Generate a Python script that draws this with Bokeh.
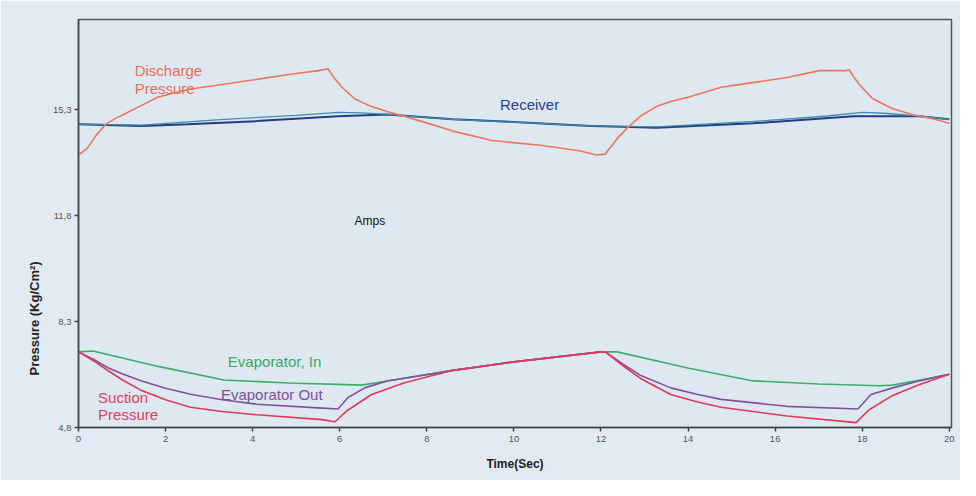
from bokeh.plotting import figure
from bokeh.models import FixedTicker, Label, Range1d, Title
from bokeh.embed import file_html
from bokeh.resources import INLINE

# ---- data ----
x_ticks = [0, 2, 4, 6, 8, 10, 12, 14, 16, 18, 20]
y_ticks = [4.8, 8.3, 11.8, 15.3]
y_tick_labels = ["4,8", "8,3", "11,8", "15,3"]

discharge_t = [0, 0.2, 0.4, 0.63, 0.85, 1.08, 1.45, 1.83, 2.57, 3.34, 4.09, 4.83, 5.51, 5.73, 5.85,
               6.05, 6.34, 6.73, 7.09, 7.47, 7.86, 8.6, 9.5, 10.6, 11.5, 11.9, 12.1, 12.37, 12.6,
               12.9, 13.27, 13.6, 14.02, 14.76, 15.52, 16.27, 17.02, 17.63, 17.7, 17.8, 17.93,
               18.24, 18.69, 19.14, 19.66, 20]
discharge_v = [13.81, 14.03, 14.45, 14.83, 15.02, 15.18, 15.45, 15.73, 15.99, 16.15, 16.31, 16.47,
               16.6, 16.66, 16.4, 16.05, 15.67, 15.41, 15.25, 15.09, 14.93, 14.6, 14.29, 14.13,
               13.95, 13.81, 13.84, 14.35, 14.7, 15.09, 15.41, 15.58, 15.73, 16.05, 16.21, 16.37,
               16.6, 16.6, 16.63, 16.4, 16.15, 15.67, 15.35, 15.15, 14.99, 14.86]

receiver_t = [0, 1.45, 2.5, 4.09, 5.96, 7.09, 8.6, 10, 11.76, 12.5, 13.27, 15.5, 17.8, 19.3, 20]
receiver_v = [14.83, 14.77, 14.83, 14.93, 15.09, 15.15, 14.99, 14.9, 14.77, 14.74, 14.71, 14.86,
              15.09, 15.09, 14.99]

receiver2_t = [0, 1.45, 3.34, 5.0, 5.96, 6.5, 7.09, 8.6, 11.76, 13.27, 15.5, 17.2, 18.0, 18.5, 19.3, 20]
receiver2_v = [14.83, 14.8, 14.99, 15.12, 15.22, 15.2, 15.15, 14.99, 14.77, 14.74, 14.92, 15.1,
               15.22, 15.19, 15.1, 14.99]

evap_in_t = [0, 0.33, 1.83, 3.34, 4.83, 6.34, 6.5, 7.09, 8.6, 10, 12.0, 12.37, 14.02, 15.5, 17.0,
             18.4, 18.7, 19.3, 20]
evap_in_v = [7.3, 7.33, 6.82, 6.37, 6.27, 6.21, 6.2, 6.34, 6.69, 6.97, 7.3, 7.3, 6.76, 6.34, 6.24,
             6.18, 6.2, 6.36, 6.56]

evap_out_t = [0, 0.35, 0.7, 1.0, 1.45, 2.0, 2.57, 3.3, 4.09, 5.6, 5.96, 6.19, 6.57, 7.09, 8.6, 10,
              12.0, 12.1, 12.5, 12.9, 13.6, 14.2, 14.76, 16.27, 17.9, 18.2, 18.7, 19.3, 20]
evap_out_v = [7.3, 7.05, 6.76, 6.58, 6.34, 6.1, 5.9, 5.72, 5.57, 5.44, 5.41, 5.79, 6.11, 6.34, 6.69,
              6.97, 7.3, 7.3, 6.9, 6.53, 6.11, 5.9, 5.73, 5.5, 5.41, 5.89, 6.11, 6.34, 6.56]

suction_t = [0, 0.35, 0.7, 1.0, 1.45, 2.0, 2.57, 3.3, 4.09, 5.6, 5.89, 6.19, 6.73, 7.47, 8.6, 10,
             12.0, 12.1, 12.5, 12.9, 13.6, 14.2, 14.76, 16.27, 17.86, 18.15, 18.7, 19.3, 20]
suction_v = [7.3, 7.0, 6.66, 6.38, 6.02, 5.72, 5.47, 5.33, 5.22, 5.06, 4.99, 5.38, 5.89, 6.27, 6.69,
             6.97, 7.3, 7.3, 6.85, 6.43, 5.89, 5.65, 5.47, 5.18, 4.96, 5.38, 5.86, 6.21, 6.56]

FONT = "Liberation Sans"
BG = "#dde8f1"

p = figure(width=960, height=480, output_backend="svg", toolbar_location=None,
           x_range=Range1d(0, 20.05), y_range=Range1d(4.8, 18.29),
           min_border_left=78, min_border_top=19, min_border_right=9, min_border_bottom=53)
p.background_fill_color = BG
p.border_fill_color = "#e2ebf3"
p.outline_line_color = "#555555"
p.outline_line_width = 1.5
p.grid.visible = False

for ax in (p.xaxis[0], p.yaxis[0]):
    ax.axis_line_color = "#444444"
    ax.axis_line_width = 1.5
    ax.major_tick_line_color = "#444444"
    ax.major_tick_line_width = 1.5
    ax.major_tick_out = 4
    ax.major_tick_in = 0
    ax.minor_tick_line_color = None
    ax.major_label_text_font = FONT
    ax.major_label_text_font_size = "9.5px"
    ax.major_label_text_color = "#555555"

p.xaxis.ticker = FixedTicker(ticks=x_ticks)
p.xaxis.major_label_standoff = 4
p.xaxis.axis_label = "Time(Sec)"
p.xaxis.axis_label_text_font = FONT
p.xaxis.axis_label_text_font_size = "12px"
p.xaxis.axis_label_text_font_style = "bold"
p.xaxis.axis_label_text_color = "#222222"
p.xaxis.axis_label_standoff = 12

p.yaxis.ticker = FixedTicker(ticks=y_ticks)
p.yaxis.major_label_overrides = {t: l for t, l in zip(y_ticks, y_tick_labels)}
p.yaxis.major_label_standoff = 3

ytitle = Title(text="Pressure (Kg/Cm²)", align="left", offset=52, standoff=18,
               text_font=FONT, text_font_size="13px", text_font_style="bold",
               text_color="#222222")
p.add_layout(ytitle, "left")

# lines
p.line(evap_in_t, evap_in_v, line_color="#3fae6a", line_width=1.6)
p.line(evap_out_t, evap_out_v, line_color="#8450a0", line_width=1.6)
p.line(suction_t, suction_v, line_color="#e2385a", line_width=1.6)
p.line(receiver_t, receiver_v, line_color="#2a3a82", line_width=2)
p.line(receiver2_t, receiver2_v, line_color="#3a90ad", line_width=1.3)
p.line(discharge_t, discharge_v, line_color="#f0765a", line_width=1.6)

# annotations
texts = [
    ("Discharge", 1.29, 16.6, "#ee6d52", "15px", "alphabetic"),
    ("Pressure", 1.29, 16.02, "#ee6d52", "15px", "alphabetic"),
    ("Receiver", 9.68, 15.47, "#2e3d90", "15px", "middle"),
    ("Amps", 6.34, 11.63, "#111111", "12px", "middle"),
    ("Evaporator, In", 3.43, 6.98, "#3aa862", "15px", "middle"),
    ("Evaporator Out", 3.27, 5.89, "#7f4fa0", "15px", "middle"),
    ("Suction", 0.45, 5.79, "#e0405a", "15px", "middle"),
    ("Pressure", 0.45, 5.22, "#e0405a", "15px", "middle"),
]
for txt, x, y, c, fs, bl in texts:
    p.add_layout(Label(x=x, y=y, text=txt, text_color=c, text_font=FONT,
                       text_font_size=fs, text_baseline=bl, text_align="left"))

open("out.html", "w").write(file_html(p, INLINE))
